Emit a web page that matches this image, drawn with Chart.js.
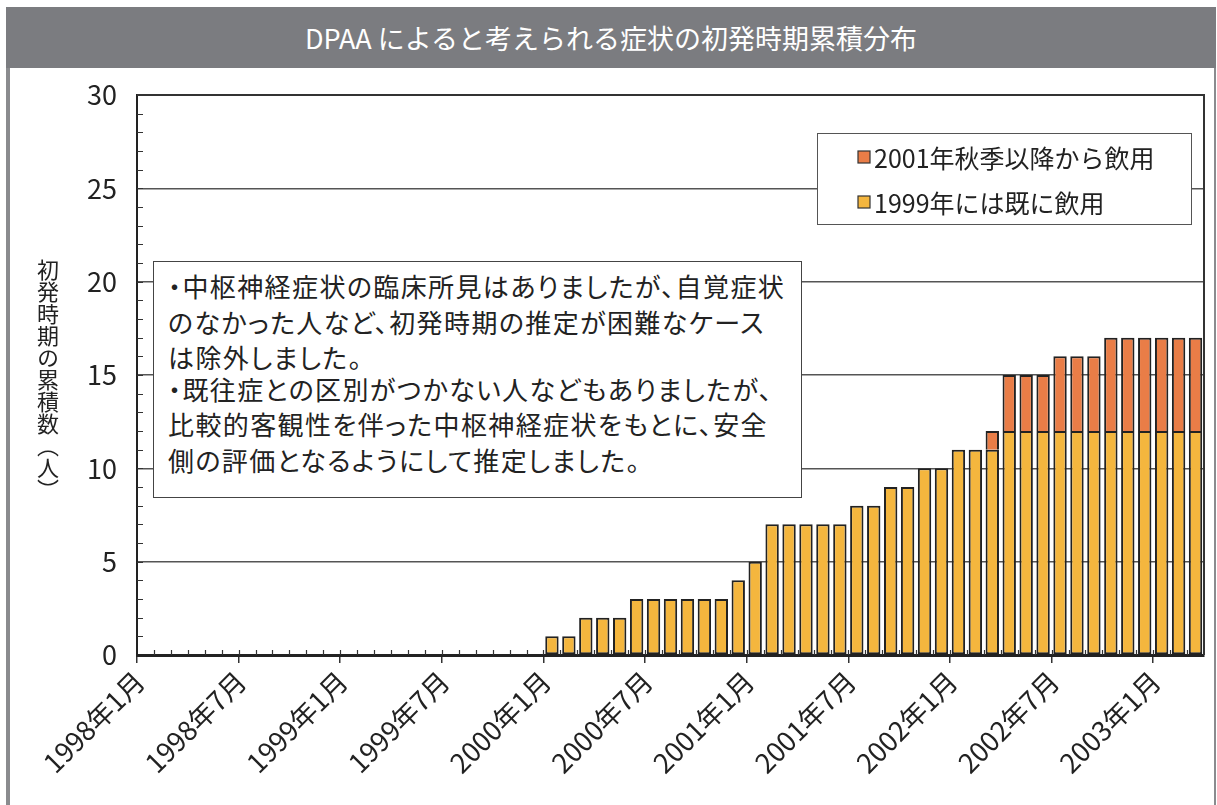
<!DOCTYPE html>
<html lang="ja">
<head>
<meta charset="utf-8">
<script src="https://cdn.jsdelivr.net/npm/chart.js@4"></script>
<style>
  body { margin: 0; background: #fff; }
  #wrap { position: relative; width: 1217px; height: 805px; overflow: hidden; font-family: "Noto Sans CJK JP", sans-serif; color: #222; }
  #frame { position: absolute; left: 6px; top: 7px; width: 1204px; height: 820px; border-left: 4px solid #8a8b8e; border-right: 2px solid #8a8b8e; }
  #title { position: absolute; left: 6px; top: 7px; width: 1210px; height: 61px; background: #7b7c80; color: #fff; font-size: 27px; line-height: 61px; text-align: center; }
  #chart { position: absolute; left: 0; top: 0; }
  #ytitle { position: absolute; left: 36px; top: 259px; writing-mode: vertical-rl; font-size: 22px; line-height: 24px; color: #222; }
  #note { position: absolute; left: 153px; top: 261px; width: 647px; height: 235px; border: 1px solid #444; background: #fff; font-size: 26px; line-height: 34.6px; color: #222; font-feature-settings: "palt"; letter-spacing: 1.4px; }
  #note div { position: absolute; left: 14px; white-space: nowrap; }
</style>
</head>
<body>
<div id="wrap">
  <div id="frame"></div>
  <canvas id="chart" width="1217" height="805"></canvas>
  <div id="title">DPAA によると考えられる症状の初発時期累積分布</div>
  <div id="ytitle">初発時期の累積数（人）</div>
  <div id="note">
    <div style="top:7px">・中枢神経症状の臨床所見はありましたが、自覚症状</div>
    <div style="top:43px">のなかった人など、初発時期の推定が困難なケース</div>
    <div style="top:78px">は除外しました。</div>
    <div style="top:110px">・既往症との区別がつかない人などもありましたが、</div>
    <div style="top:145px">比較的客観性を伴った中枢神経症状をもとに、安全</div>
    <div style="top:181px">側の評価となるようにして推定しました。</div>
  </div>
</div>
<script>
// months 1998年1月 .. 2003年3月
const months = [];
for (let y = 1998; y <= 2003; y++) {
  for (let m = 1; m <= 12; m++) {
    if (months.length < 63) months.push(y + "年" + m + "月");
  }
}

const tickLabels = [
  "1998年1月", "1998年7月", "1999年1月", "1999年7月", "2000年1月", "2000年7月",
  "2001年1月", "2001年7月", "2002年1月", "2002年7月", "2003年1月",
];

// 1999年には既に飲用
const earlyUsers = [
  0, 0, 0, 0, 0, 0, 0, 0, 0, 0, 0, 0,        // 1998
  0, 0, 0, 0, 0, 0, 0, 0, 0, 0, 0, 0,        // 1999
  1, 1, 2, 2, 2, 3, 3, 3, 3, 3, 3, 4,        // 2000
  5, 7, 7, 7, 7, 7, 8, 8, 9, 9, 10, 10,      // 2001
  11, 11, 11, 12, 12, 12, 12, 12, 12, 12, 12, 12, // 2002
  12, 12, 12,                                // 2003
];

// 2001年秋季以降から飲用
const lateUsers = [
  null, null, null, null, null, null, null, null, null, null, null, null,
  null, null, null, null, null, null, null, null, null, null, null, null,
  null, null, null, null, null, null, null, null, null, null, null, null,
  null, null, null, null, null, null, null, null, null, null, null, null,
  null, null, 1, 3, 3, 3, 4, 4, 4, 5, 5, 5,
  5, 5, 5,
];

const seriesNames = ["1999年には既に飲用", "2001年秋季以降から飲用"];
const seriesColors = ["#F4B63E", "#E97D47"];

Chart.defaults.font.family = "'Noto Sans CJK JP', sans-serif";
Chart.defaults.color = "#222";

// 枠線・補助目盛・凡例
const extras = {
  id: "extras",
  afterDraw(chart) {
    const ctx = chart.ctx;
    const a = chart.chartArea;
    const x = chart.scales.x;
    const y = chart.scales.y;
    ctx.save();
    ctx.strokeStyle = "#333";
    ctx.lineWidth = 2;
    ctx.beginPath();
    ctx.moveTo(a.left, a.top);
    ctx.lineTo(a.right, a.top);
    ctx.lineTo(a.right, a.bottom);
    ctx.stroke();

    // minor ticks
    ctx.lineWidth = 1.2;
    ctx.strokeStyle = "#333";
    const pitch = (a.right - a.left) / months.length;
    ctx.beginPath();
    for (let i = 1; i < months.length; i++) {
      const px = Math.round(x.getPixelForValue(i) - pitch / 2) + 0.5;
      ctx.moveTo(px, a.bottom);
      ctx.lineTo(px, a.bottom - 5);
    }
    for (let v = 1; v < 30; v++) {
      const py = Math.round(y.getPixelForValue(v)) + 0.5;
      ctx.moveTo(a.left, py);
      ctx.lineTo(a.left + 6, py);
    }
    ctx.stroke();

    // legend box
    const bx = 817, by = 133, bw = 374, bh = 91;
    ctx.fillStyle = "#fff";
    ctx.fillRect(bx, by, bw, bh);
    ctx.strokeStyle = "#555";
    ctx.lineWidth = 1;
    ctx.strokeRect(bx + 0.5, by + 0.5, bw, bh);
    const items = chart.data.datasets.slice().reverse();
    ctx.font = "25px 'Noto Sans CJK JP', sans-serif";
    ctx.textBaseline = "middle";
    items.forEach((ds, k) => {
      const cy = 157 + k * 45;
      ctx.fillStyle = ds.backgroundColor;
      ctx.fillRect(858, cy - 6, 12, 12);
      ctx.strokeStyle = "#333";
      ctx.lineWidth = 1.2;
      ctx.strokeRect(858, cy - 6, 12, 12);
      ctx.fillStyle = "#222";
      ctx.fillText(ds.label, 874, cy + 1);
    });
    ctx.restore();
  },
};

new Chart(document.getElementById("chart"), {
  type: "bar",
  data: {
    labels: months,
    datasets: [
      {
        label: seriesNames[0],
        data: earlyUsers,
        backgroundColor: seriesColors[0],
        borderColor: "#222",
        borderWidth: 2,
        borderSkipped: false,
        barPercentage: 0.79,
        categoryPercentage: 1,
      },
      {
        label: seriesNames[1],
        data: lateUsers,
        backgroundColor: seriesColors[1],
        borderColor: "#222",
        borderWidth: 2,
        borderSkipped: "start",
        barPercentage: 0.79,
        categoryPercentage: 1,
      },
    ],
  },
  options: {
    responsive: false,
    animation: false,
    devicePixelRatio: 1,
    layout: { padding: { top: 95, right: 13, left: 0, bottom: 0 } },
    plugins: {
      legend: { display: false },
      title: { display: false },
      tooltip: { enabled: false },
    },
    scales: {
      x: {
        stacked: true,
        offset: true,
        afterFit: (s) => {
          s.height = 150;
          s.paddingLeft = 0;
          s.paddingRight = 0;
        },
        grid: {
          offset: true,
          drawOnChartArea: false,
          drawTicks: true,
          tickLength: 8,
          lineWidth: 1.5,
          color: (c) => (c.index % 6 === 0 ? "#333" : "rgba(0,0,0,0)"),
        },
        border: { color: "#222", width: 3 },
        ticks: {
          autoSkip: false,
          minRotation: 45,
          maxRotation: 45,
          labelOffset: -6,
          padding: 2,
          font: { size: 27 },
          color: "#222",
          callback: (v, i) => (tickLabels.includes(months[i]) ? months[i] : ""),
        },
      },
      y: {
        stacked: true,
        min: 0,
        max: 30,
        afterFit: (s) => { s.width = 137; },
        grid: {
          drawTicks: false,
          lineWidth: 1.5,
          color: (c) => (c.tick && (c.tick.value === 0 || c.tick.value === 30) ? "rgba(0,0,0,0)" : "#555"),
        },
        border: { color: "#222", width: 2 },
        ticks: {
          stepSize: 5,
          padding: 20,
          font: { size: 27 },
          color: "#222",
        },
      },
    },
  },
  plugins: [extras],
});
</script>
</body>
</html>
